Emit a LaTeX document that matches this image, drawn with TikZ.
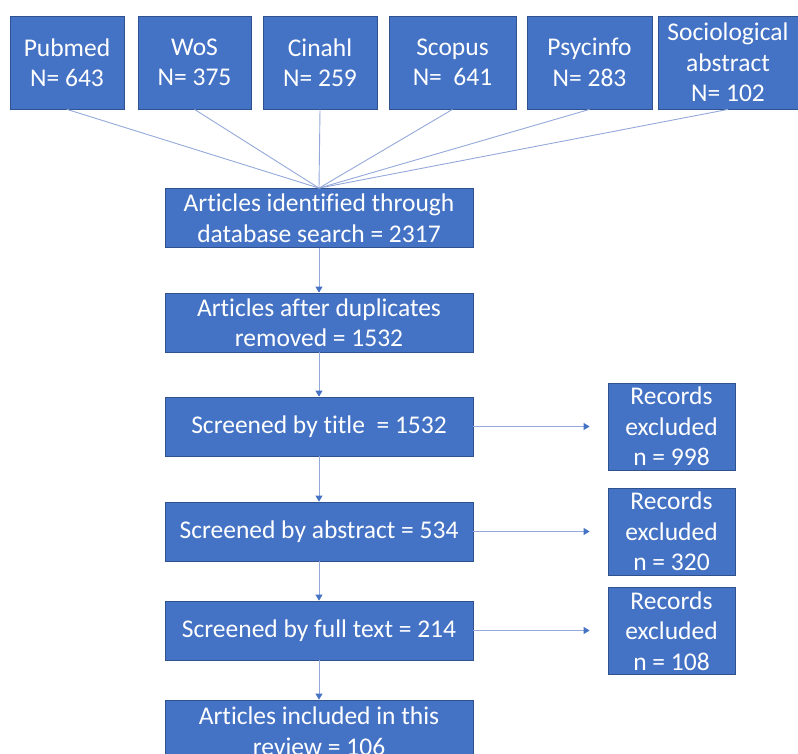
\documentclass[tikz,border=0pt]{standalone}
\usepackage{fontspec}
\setmainfont{Carlito}[Ligatures=NoCommon]
\usetikzlibrary{arrows.meta}
\definecolor{boxblue}{HTML}{4472C4}
\definecolor{boxline}{HTML}{2F528F}
\definecolor{linkblue}{HTML}{94A8DA}
\begin{document}
\begin{tikzpicture}[x=1pt, y=-1pt, >={Triangle[width=7pt,length=6pt,color=boxblue]}]
\tikzstyle{box}=[draw=boxline, line width=0.8pt, fill=boxblue, text=white, align=center, inner sep=0pt, font=\fontsize{25.5}{30.5}\selectfont]
\tikzstyle{db}=[box, minimum height=93pt]
\tikzstyle{stage}=[box, minimum width=308pt, minimum height=59pt]
\tikzstyle{excl}=[box, minimum width=127pt, minimum height=87pt]
\tikzstyle{link}=[draw=linkblue, line width=0.9pt]
\useasboundingbox (0,0) rectangle (798,753);

\node[db, minimum width=114pt] (pubmed) at (67,62.5) {Pubmed\\N= 643};
\node[db, minimum width=113pt] (wos) at (194.5,62.5) {WoS\\N= 375};
\node[db, minimum width=114pt] (cinahl) at (320,62.5) {Cinahl\\N= 259};
\node[db, minimum width=127pt] (scopus) at (452.5,62.5) {Scopus\\N=\ \ 641};
\node[db, minimum width=125pt] (psycinfo) at (589.5,62.5) {Psycinfo\\N= 283};
\node[db, minimum width=140pt] (socio) at (728,62.5) {Sociological\\abstract\\N= 102};

\node[stage] (ident) at (319,218) {Articles identified through\\database search = 2317};
\node[stage] (dedup) at (319,322.5) {Articles after duplicates\\removed = 1532};
\node[stage] (title) at (319,426.5) {Screened by title\ \ = 1532};
\node[stage] (abstract) at (319,531.5) {Screened by abstract = 534};
\node[stage] (fulltext) at (319,630.5) {Screened by full text = 214};
\node[stage, minimum height=62pt] (included) at (319,731) {Articles included in this\\review = 106};

\node[excl] (ex1) at (671.5,426.5) {Records\\excluded\\n = 998};
\node[excl] (ex2) at (671.5,531.5) {Records\\excluded\\n = 320};
\node[excl] (ex3) at (671.5,631) {Records\\excluded\\n = 108};

\foreach \src in {pubmed,wos,cinahl,scopus,psycinfo,socio}
  \draw[link] (\src.south) -- (ident.north);

\draw[link, ->] (ident) edge (dedup);
\draw[link, ->] (dedup) edge (title);
\draw[link, ->] (title) edge (abstract);
\draw[link, ->] (abstract) edge (fulltext);
\draw[link, ->] (fulltext) edge (included);

\draw[link, ->, shorten >=18pt] (title) edge (ex1);
\draw[link, ->, shorten >=18pt] (abstract) edge (ex2);
\draw[link, ->, shorten >=18pt] (fulltext) edge (ex3.west |- fulltext.east);
\end{tikzpicture}
\end{document}
